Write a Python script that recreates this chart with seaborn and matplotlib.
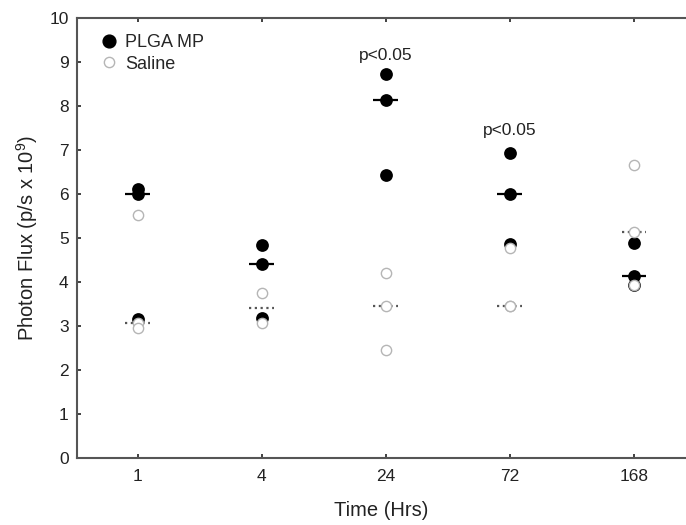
import numpy as np
import pandas as pd
import matplotlib
matplotlib.use("Agg")
import matplotlib.pyplot as plt
from matplotlib.lines import Line2D
import seaborn as sns

# ---- data ----
times = ["1", "4", "24", "72", "168"]
plga_1 = [6.12, 5.99, 3.16]
plga_4 = [4.83, 4.42, 3.18]
plga_24 = [8.72, 8.13, 6.43]
plga_72 = [6.94, 6.01, 4.87]
plga_168 = [4.88, 4.13, 3.93]
saline_1 = [5.53, 3.06, 2.95]
saline_4 = [3.75, 3.07]
saline_24 = [4.20, 3.45, 2.45]
saline_72 = [4.78, 3.45, 3.45]
saline_168 = [6.67, 5.13, 3.93]
y_ticks = [0, 1, 2, 3, 4, 5, 6, 7, 8, 9, 10]
annotations = [("24", 9.14, "p<0.05"), ("72", 7.44, "p<0.05")]

plga = [plga_1, plga_4, plga_24, plga_72, plga_168]
saline = [saline_1, saline_4, saline_24, saline_72, saline_168]

rows = []
for t, vals in zip(times, plga):
    rows += [{"Time": t, "Flux": v, "Group": "PLGA MP"} for v in vals]
for t, vals in zip(times, saline):
    rows += [{"Time": t, "Flux": v, "Group": "Saline"} for v in vals]
df = pd.DataFrame(rows)
df_p = df[df.Group == "PLGA MP"]
df_s = df[df.Group == "Saline"]

sns.set_style("ticks")
plt.rcParams["font.family"] = ["Liberation Sans", "DejaVu Sans"]
plt.rcParams["mathtext.fontset"] = "custom"
plt.rcParams["mathtext.rm"] = "Liberation Sans"
plt.rcParams["mathtext.it"] = "Liberation Sans:italic"

fig = plt.figure(figsize=(6.86, 5.25), dpi=100)
ax = fig.add_axes([77 / 686, 1 - 458 / 525, (686 - 77) / 686, (458 - 18) / 525])

# median lines via boxplot with everything but the median hidden
common = dict(order=times, width=0.2, showbox=False, showcaps=False,
              showfliers=False, whis=0,
              whiskerprops={"visible": False}, ax=ax)
sns.boxplot(data=df_p, x="Time", y="Flux",
            medianprops={"color": "black", "linewidth": 1.6, "linestyle": "-"},
            **common)
sns.boxplot(data=df_s, x="Time", y="Flux",
            medianprops={"color": "#555555", "linewidth": 1.6, "linestyle": (0, (1, 1.6))},
            **common)

sns.stripplot(data=df_p, x="Time", y="Flux", order=times, jitter=False,
              color="black", size=9.2, linewidth=0, ax=ax, zorder=3)
sns.stripplot(data=df_s, x="Time", y="Flux", order=times, jitter=False,
              color="white", edgecolor="#b5b5b5", linewidth=1.0, size=7.4,
              ax=ax, zorder=4)

for t, y, txt in annotations:
    ax.text(times.index(t), y, txt, ha="center", va="center",
            fontsize=12.5, color="#222222")

ax.set_xlim(-0.49, 4.42)
ax.set_ylim(0, 10)
ax.set_yticks(y_ticks)
ax.set_xticks(range(len(times)))
ax.set_xticklabels(times)

for side in ["left", "bottom", "top"]:
    ax.spines[side].set_visible(True)
    ax.spines[side].set_color("#555555")
    ax.spines[side].set_linewidth(1.5)
ax.spines["right"].set_visible(False)

ax.tick_params(axis="both", direction="in", length=3, width=1.3,
               color="#333333", labelsize=12.5, labelcolor="#222222", pad=6)
ax.tick_params(axis="x", top=True, pad=8)

ax.set_xlabel("Time (Hrs)", fontsize=14.5, color="#222222", labelpad=12)
ax.set_ylabel("Photon Flux (p/s x 10$^9$)", fontsize=14.5, color="#222222",
              labelpad=7)

handles = [
    Line2D([], [], marker="o", linestyle="none", markerfacecolor="black",
           markeredgecolor="black", markersize=9.2),
    Line2D([], [], marker="o", linestyle="none", markerfacecolor="white",
           markeredgecolor="#b5b5b5", markeredgewidth=1.0, markersize=7.4),
]
ax.legend(handles, ["PLGA MP", "Saline"], loc="upper left",
          bbox_to_anchor=(0.02, 0.988), frameon=False, fontsize=13,
          handletextpad=0.4, labelspacing=0.25, handlelength=1.0,
          borderaxespad=0.2)

fig.savefig("out.png", dpi=100)
